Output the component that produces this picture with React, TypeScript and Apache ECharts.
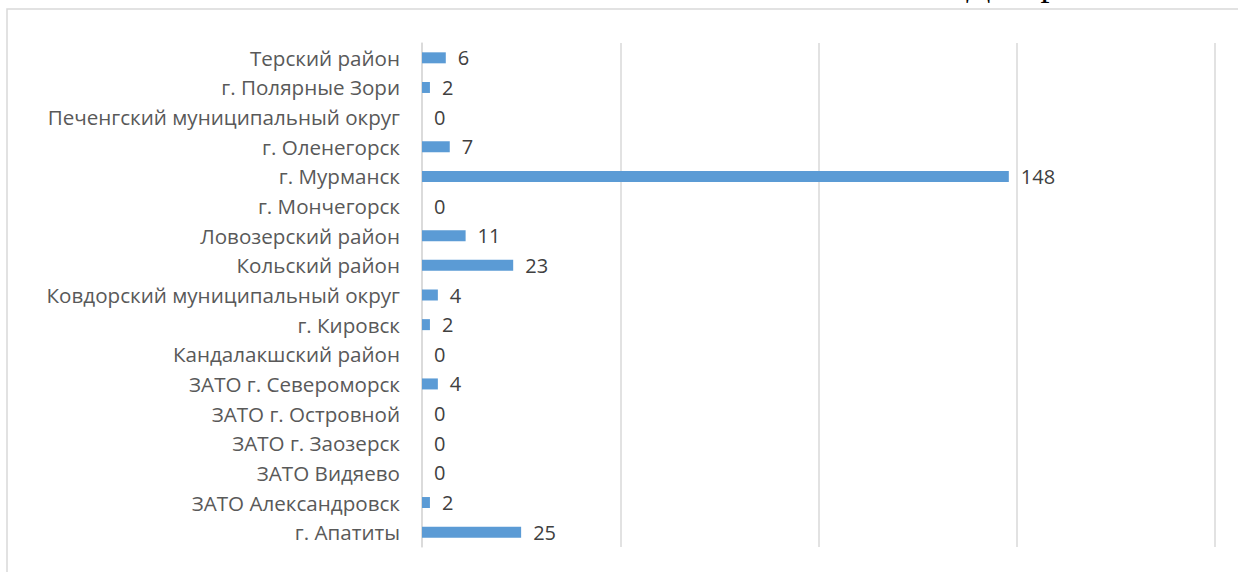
import React, { useEffect, useRef } from "react";
import * as echarts from "echarts";

const categories = [
  "г. Апатиты",
  "ЗАТО Александровск",
  "ЗАТО Видяево",
  "ЗАТО г. Заозерск",
  "ЗАТО г. Островной",
  "ЗАТО г. Североморск",
  "Кандалакшский район",
  "г. Кировск",
  "Ковдорский муниципальный округ",
  "Кольский район",
  "Ловозерский район",
  "г. Мончегорск",
  "г. Мурманск",
  "г. Оленегорск",
  "Печенгский муниципальный округ",
  "г. Полярные Зори",
  "Терский район",
];
const values = [25, 2, 0, 0, 0, 4, 0, 2, 4, 23, 11, 0, 148, 7, 0, 2, 6];
const pageTitle = "Диаграмма 1";

const FONT = "'Open Sans', 'Noto Sans', sans-serif";

export default function App() {
  const ref = useRef<HTMLDivElement>(null);
  useEffect(() => {
    if (!ref.current) return;
    const chart = echarts.init(ref.current, undefined, { renderer: "svg" });
    chart.setOption({
      animation: false,
      backgroundColor: "#ffffff",
      grid: { left: 422, right: 23, top: 43, bottom: 25, containLabel: false },
      xAxis: {
        type: "value",
        min: 0,
        max: 200,
        interval: 50,
        axisLabel: { show: false },
        axisLine: { show: false },
        axisTick: { show: false },
        splitLine: { show: true, lineStyle: { color: "#d9d9d9", width: 1.5 } },
      },
      yAxis: {
        type: "category",
        data: categories,
        axisTick: { show: false },
        axisLine: { show: true, lineStyle: { color: "#d9d9d9", width: 1.5 } },
        axisLabel: {
          color: "#595959",
          fontSize: 20.6,
          fontFamily: FONT,
          margin: 22,
        },
      },
      series: [
        {
          type: "bar",
          data: values,
          barWidth: 11,
          itemStyle: { color: "#5b9bd5" },
          label: {
            show: true,
            position: "right",
            distance: 12,
            color: "#404040",
            fontSize: 20,
            fontFamily: FONT,
          },
        },
      ],
      graphic: [
        {
          type: "rect",
          shape: { x: 7, y: 9, width: 1400, height: 700 },
          style: { fill: "none", stroke: "#d9d9d9", lineWidth: 1.5 },
          silent: true,
        },
        {
          type: "text",
          x: 966,
          y: -35,
          style: {
            text: pageTitle,
            font: "36px 'Liberation Serif', 'DejaVu Serif', serif",
            fill: "#000000",
          },
          silent: true,
        },
      ],
    });
    return () => chart.dispose();
  }, []);
  return (
    <div
      ref={ref}
      style={{ position: "fixed", left: 0, top: 0, width: 1238, height: 572 }}
    />
  );
}
